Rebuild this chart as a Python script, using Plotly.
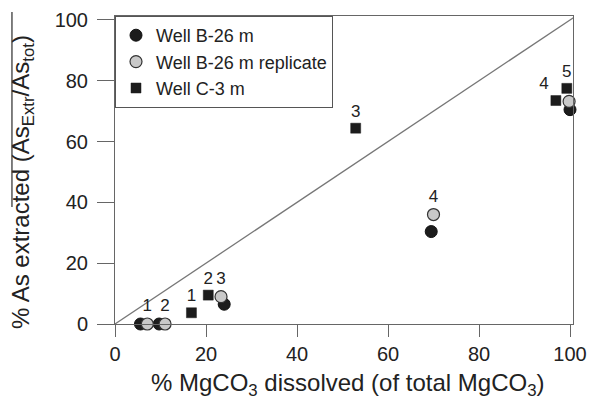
import plotly.graph_objects as go

# Data
b26_x = [5.6, 9.7, 24.0, 69.5, 100.0]
b26_y = [0.0, 0.0, 6.5, 30.4, 70.5]

b26r_x = [7.1, 11.0, 23.3, 70.0, 99.8]
b26r_y = [0.0, 0.0, 9.0, 36.0, 73.2]
b26r_labels = ["1", "2", "3", "4", ""]

c3_x = [16.8, 20.5, 52.9, 96.9, 99.3]
c3_y = [3.7, 9.5, 64.4, 73.5, 77.5]
c3_labels = ["1", "2", "3", "4", "5"]
c3_textpos = ["top center", "top center", "top center", "top left", "top center"]

line_x = [0, 102]
line_y = [0, 102]

ticks = [0, 20, 40, 60, 80, 100]

x_title = "% MgCO<sub>3</sub> dissolved (of total MgCO<sub>3</sub>)"
y_title = "% As extracted (As<sub>Extr</sub>/As<sub>tot</sub>)"

FONT = "Liberation Sans, Arial, sans-serif"
AX = "#666666"
TXT = "#222222"

fig = go.Figure()

fig.add_trace(go.Scatter(
    x=line_x, y=line_y, mode="lines",
    line=dict(color="#777777", width=1.3),
    showlegend=False, hoverinfo="skip"))

fig.add_trace(go.Scatter(
    x=b26_x, y=b26_y, mode="markers", name="Well B-26 m",
    marker=dict(symbol="circle", size=12, color="#1c1c1c",
                line=dict(color="#111111", width=1)),
    cliponaxis=False))

fig.add_trace(go.Scatter(
    x=b26r_x, y=b26r_y, mode="markers+text", name="Well B-26 m replicate",
    text=b26r_labels, textposition="top center",
    textfont=dict(family=FONT, size=17, color=TXT),
    marker=dict(symbol="circle", size=12, color="#c9c9c9",
                line=dict(color="#333333", width=1.2)),
    cliponaxis=False))

fig.add_trace(go.Scatter(
    x=c3_x, y=c3_y, mode="markers+text", name="Well C-3 m",
    text=c3_labels, textposition=c3_textpos,
    textfont=dict(family=FONT, size=17, color=TXT),
    marker=dict(symbol="square", size=10, color="#1c1c1c",
                line=dict(color="#1c1c1c", width=0.5)),
    cliponaxis=False))

fig.update_layout(
    width=589, height=403,
    margin=dict(l=115, r=16, t=16, b=79, autoexpand=False),
    paper_bgcolor="white", plot_bgcolor="white",
    font=dict(family=FONT, color=TXT),
    legend=dict(x=0, y=1, xanchor="left", yanchor="top",
                bgcolor="white", bordercolor="#555555", borderwidth=1,
                font=dict(family=FONT, size=18, color=TXT),
                tracegroupgap=0),
    xaxis=dict(range=[0, 100.66], tickvals=ticks, ticks="outside", ticklen=12,
               tickcolor=AX, showline=True, linecolor=AX, linewidth=1, mirror=True,
               showgrid=False, zeroline=False, automargin=False,
               tickfont=dict(family=FONT, size=20, color=TXT)),
    yaxis=dict(range=[0, 101.3], tickvals=ticks, ticks="outside", ticklen=17,
               tickcolor=AX, showline=True, linecolor=AX, linewidth=1, mirror=True,
               showgrid=False, zeroline=False, automargin=False,
               ticklabelstandoff=5,
               tickfont=dict(family=FONT, size=20, color=TXT)),
    annotations=[
        dict(text=x_title, xref="paper", yref="paper", x=0.5076, y=-0.198,
             xanchor="center", yanchor="middle", showarrow=False,
             font=dict(family=FONT, size=24, color=TXT)),
        dict(text=y_title, xref="paper", yref="paper", x=-0.203, y=0.461,
             xanchor="center", yanchor="middle", textangle=-90, showarrow=False,
             font=dict(family=FONT, size=24, color=TXT)),
    ],
    shapes=[dict(type="line", xref="paper", yref="paper",
                 x0=-0.225, x1=-0.225, y0=0.38, y1=1.013,
                 line=dict(color="#555555", width=1.5))],
)

fig.write_html("out.html")
